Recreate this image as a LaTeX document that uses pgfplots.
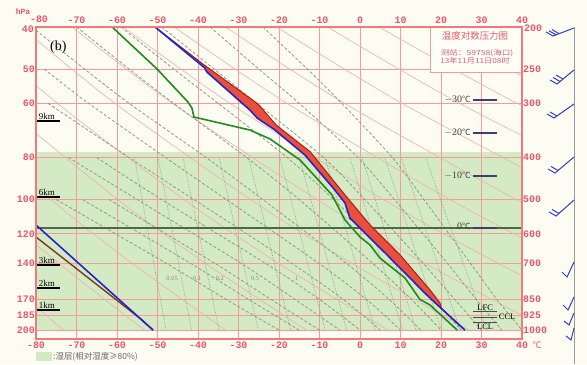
\documentclass[border=0pt]{standalone}
\usepackage{pgfplots}
\pgfplotsset{compat=1.18}
\usepackage{fontspec}
\setmainfont{Liberation Serif}
\newfontfamily\lmono{Liberation Mono}
\newfontfamily\cjk{Noto Sans CJK SC}
\definecolor{bg}{HTML}{FCFCF3}
\definecolor{moist}{HTML}{D4EAC4}
\definecolor{gridred}{HTML}{F29C9C}
\definecolor{axisred}{HTML}{F07A7A}
\definecolor{labred}{HTML}{E8586A}
\definecolor{fillred}{HTML}{E8503C}
\definecolor{linered}{HTML}{B01818}
\definecolor{pblue}{HTML}{2424C8}
\definecolor{tdgreen}{HTML}{1E8C1E}
\definecolor{dryad}{HTML}{EEB0A8}
\definecolor{moistad}{HTML}{8C9C86}
\definecolor{mixr}{HTML}{8A9A8A}
\definecolor{zeroline}{HTML}{4A6A4A}
\definecolor{brownl}{HTML}{7A3A1A}
\definecolor{navy}{HTML}{3C4070}
\definecolor{barbblue}{HTML}{3040C0}
\definecolor{boxbg}{HTML}{FFFFF8}
\tikzset{lab/.style={font=\lmono\bfseries\fontsize{10}{10}\selectfont, text=labred, inner sep=0pt}}
\begin{document}
\begin{tikzpicture}[x=1bp,y=1bp]
\path[use as bounding box, fill=bg] (0,0) rectangle (587,364);
\begin{axis}[at={(36bp,25bp)}, anchor=south west, width=486bp, height=312bp, scale only axis,
  xmin=-80, xmax=40, ymode=log, ymin=200, ymax=1048.6, y dir=reverse,
  axis line style={draw=none}, xtick=\empty, ytick=\empty, clip mode=individual]
% moist layer
\addplot[draw=none, fill=moist] coordinates {(-80,388) (40,388) (40,1000) (-80,1000)} -- cycle;
% isotherms
\pgfplotsinvokeforeach{-70,-60,-50,-40,-30,-20,-10,0,10,20,30}{
  \addplot[gridred, line width=0.8bp] coordinates {(#1,200) (#1,1048.6)};
}
% isobars
\pgfplotsinvokeforeach{250,300,400,500,600,700,850,925,1000}{
  \addplot[gridred, line width=0.8bp] coordinates {(-80,#1) (40,#1)};
}
% dry adiabats
\pgfplotsset{dry/.style={dryad, line width=0.6bp, smooth}}
\addplot[dry] coordinates {(-146.9,200) (-131.4,300) (-109.0,500) (-92.5,700) (-73.2,1000)};
\addplot[dry] coordinates {(-134.2,200) (-117.2,300) (-92.7,500) (-74.5,700) (-53.2,1000)};
\addplot[dry] coordinates {(-121.6,200) (-103.0,300) (-76.3,500) (-56.4,700) (-33.2,1000)};
\addplot[dry] coordinates {(-109.0,200) (-88.8,300) (-59.8,500) (-38.3,700) (-13.2,1000)};
\addplot[dry] coordinates {(-96.4,200) (-74.7,300) (-43.4,500) (-20.3,700) (6.9,1000)};
\addplot[dry] coordinates {(-83.7,200) (-60.5,300) (-27.0,500) (-2.2,700) (26.9,1000)};
\addplot[dry] coordinates {(-71.1,200) (-46.3,300) (-10.6,500) (15.8,700) (46.9,1000)};
\addplot[dry] coordinates {(-58.5,200) (-32.1,300) (5.8,500) (33.9,700) (66.9,1000)};
\addplot[dry] coordinates {(-45.9,200) (-18.0,300) (22.2,500) (52.0,700)};
\addplot[dry] coordinates {(-33.2,200) (-3.8,300) (38.6,500) (70.0,700)};
\addplot[dry] coordinates {(-20.6,200) (10.4,300) (55.0,500)};
\addplot[dry] coordinates {(-8.0,200) (24.6,300) (71.4,500)};
\addplot[dry] coordinates {(4.7,200) (38.8,300) (87.8,500)};
\addplot[dry] coordinates {(17.3,200) (53.0,300)};
\addplot[dry] coordinates {(29.9,200) (67.1,300)};
% moist adiabats
\pgfplotsset{wet/.style={moistad, line width=0.8bp, dash pattern=on 3bp off 2bp, smooth}}
\addplot[wet] coordinates {(-24,200) (-13,250) (-4.5,300) (8,400) (15.8,500) (27.2,700) (33.8,850) (40,1000)};
\addplot[wet] coordinates {(-37,200) (-25,250) (-15,300) (-0.5,400) (8.5,500) (21.5,700) (28.7,850) (35,1000)};
\addplot[wet] coordinates {(-49,200) (-36,250) (-25.5,300) (-9,400) (1.2,500) (15.5,700) (23.4,850) (30,1000)};
\addplot[wet] coordinates {(-59,200) (-46,250) (-35,300) (-18,400) (-6.5,500) (9.4,700) (18.1,850) (25,1000)};
\addplot[wet] coordinates {(-70,200) (-57,250) (-46,300) (-28,400) (-15,500) (3,700) (12.7,850) (20,1000)};
\addplot[wet] coordinates {(-81,200) (-68,250) (-57,300) (-38,400) (-24,500) (-3.5,700) (7.2,850) (15,1000)};
\addplot[wet] coordinates {(-78,250) (-67,300) (-48,400) (-33,500) (-10.3,700) (1.6,850) (10,1000)};
\addplot[wet] coordinates {(-77,300) (-57,400) (-41,500) (-17,700) (-4.1,850) (5,1000)};
\addplot[wet] coordinates {(-65,400) (-49,500) (-23.5,700) (-10,850) (0,1000)};
\addplot[wet] coordinates {(-72,400) (-55,500) (-29.5,700) (-16,850) (-5,1000)};
\addplot[wet] coordinates {(-62,500) (-36,700) (-22,850) (-10,1000)};
\addplot[wet] coordinates {(-68.5,500) (-42,700) (-27.5,850) (-15,1000)};
\addplot[wet] coordinates {(-75,500) (-48,700) (-33,850) (-20,1000)};
% mixing ratio lines
\pgfplotsset{mix/.style={mixr, line width=0.6bp, densely dotted}}
\addplot[mix] coordinates {(-55.7,400) (-47.9,1000)};
\addplot[mix] coordinates {(-49.9,400) (-41.6,1000)};
\addplot[mix] coordinates {(-43.7,400) (-34.8,1000)};
\addplot[mix] coordinates {(-34.8,400) (-25.1,1000)};
\addplot[mix] coordinates {(-27.5,400) (-17.1,1000)};
\addplot[mix] coordinates {(-19.8,400) (-8.6,1000)};
\addplot[mix] coordinates {(-15.0,400) (-3.3,1000)};
\addplot[mix] coordinates {(-8.65,400) (3.7,1000)};
\addplot[mix] coordinates {(-2.5,400) (10.5,1000)};
\addplot[mix] coordinates {(0.5,400) (13.85,1000)};
\addplot[mix] coordinates {(6.1,400) (20.1,1000)};
\addplot[mix] coordinates {(10.2,400) (24.7,1000)};
\addplot[mix] coordinates {(16.2,400) (31.4,1000)};
% 0 C level
\addplot[zeroline, line width=1.2bp] coordinates {(-80,581.6) (40,581.6)};
% red area between temperature and state curve
\addplot[draw=none, fill=fillred] coordinates {
 (-50.6,200) (-38.8,243.4) (-25.2,301) (-20.7,336.6) (-12.3,388) (-3.7,488) (2.5,572.4)
 (9.9,671.2) (17.3,808.4) (19.75,866.2) (20.1,892) (17.8,852.4) (16.0,821.4) (6.7,671.2)
 (0,581.6) (-2.5,551.5) (-3.7,509.3) (-6.2,475.3) (-13.6,394.7) (-21.0,345.6) (-25.4,324.3)
 (-27.2,310.8) (-37.8,254) (-38.3,248.7) (-50.6,200)} -- cycle;
\addplot[linered, line width=1bp] coordinates {
 (-50.6,200) (-38.8,243.4) (-25.2,301) (-20.7,336.6) (-12.3,388) (-3.7,488) (2.5,572.4)
 (9.9,671.2) (17.3,808.4) (19.75,866.2) (20.1,892) (25.9,1000)};
% dew point
\addplot[tdgreen, line width=1.6bp] coordinates {
 (-61.2,200) (-50.1,250) (-42.5,297.8) (-41.5,307.6) (-41.0,322.6) (-27.2,345.6) (-22.2,362.5)
 (-14.8,405.3) (-6.9,488) (-3.7,557.4) (0,610) (2.5,636.5) (4.9,682) (11.1,758.4)
 (14.8,850) (17.3,875.4) (24.0,1000)};
% state curve
\addplot[pblue, line width=1.6bp] coordinates {
 (-50.6,200) (-38.3,248.7) (-37.8,254) (-27.2,310.8) (-25.4,324.3) (-21.0,345.6)
 (-13.6,394.7) (-6.2,475.3) (-3.7,509.3) (-2.5,551.5) (0,581.6) (6.7,671.2)
 (16.0,821.4) (17.8,852.4) (25.9,1000)};
% lower-left curves
\addplot[brownl, line width=1.4bp] coordinates {(-80,610) (-54.1,943) (-51.1,1000)};
\addplot[pblue, line width=1.6bp] coordinates {(-80,572.4) (-51.1,1000)};
% height marks
\pgfplotsinvokeforeach{329.4,493.4,707.8,800,899}{
  \addplot[black, line width=1.2bp] coordinates {(-80,#1) (-74.1,#1)};
}
\node[anchor=south west, inner sep=1bp, font=\fontsize{9}{9}\selectfont] at (axis cs:-79.6,329.4) {9km};
\node[anchor=south west, inner sep=1bp, font=\fontsize{9}{9}\selectfont] at (axis cs:-79.6,493.4) {6km};
\node[anchor=south west, inner sep=1bp, font=\fontsize{9}{9}\selectfont] at (axis cs:-79.6,707.8) {3km};
\node[anchor=south west, inner sep=1bp, font=\fontsize{9}{9}\selectfont] at (axis cs:-79.6,800) {2km};
\node[anchor=south west, inner sep=1bp, font=\fontsize{9}{9}\selectfont] at (axis cs:-79.6,899) {1km};
% isotherm level marks
\pgfplotsinvokeforeach{294.7,351,441.3,581.6}{
  \addplot[navy, line width=1.8bp] coordinates {(27.9,#1) (33.8,#1)};
}
\node[anchor=east, inner sep=1bp, text=black!75, font=\fontsize{10}{10}\selectfont] at (axis cs:27.6,294.7) {$-$30{\cjk\fontsize{8.5}{8.5}\selectfont ℃}};
\node[anchor=east, inner sep=1bp, text=black!75, font=\fontsize{10}{10}\selectfont] at (axis cs:27.6,351) {$-$20{\cjk\fontsize{8.5}{8.5}\selectfont ℃}};
\node[anchor=east, inner sep=1bp, text=black!75, font=\fontsize{10}{10}\selectfont] at (axis cs:27.6,441.3) {$-$10{\cjk\fontsize{8.5}{8.5}\selectfont ℃}};
\node[anchor=east, inner sep=1bp, text=black!75, font=\fontsize{10}{10}\selectfont] at (axis cs:27.6,576) {0{\cjk\fontsize{8.5}{8.5}\selectfont ℃}};
% LFC CCL LCL
\pgfplotsinvokeforeach{907,934,960}{
  \addplot[black!70, line width=1.4bp] coordinates {(27.9,#1) (33.8,#1)};
}
\node[anchor=south, inner sep=1bp, font=\fontsize{8.5}{8.5}\selectfont] at (axis cs:30.9,907) {LFC};
\node[anchor=west, inner sep=1bp, font=\fontsize{8.5}{8.5}\selectfont] at (axis cs:34.0,934) {CCL};
\node[anchor=north, inner sep=1bp, font=\fontsize{8.5}{8.5}\selectfont] at (axis cs:30.9,962) {LCL};
% mixing ratio labels
\node[text=black!45, font=\fontsize{6.5}{6.5}\selectfont] at (axis cs:-46.4,758) {0.05};
\node[text=black!45, font=\fontsize{6.5}{6.5}\selectfont] at (axis cs:-40.2,758) {0.1};
\node[text=black!45, font=\fontsize{6.5}{6.5}\selectfont] at (axis cs:-34.6,758) {0.2};
\node[text=black!45, font=\fontsize{6.5}{6.5}\selectfont] at (axis cs:-25.9,758) {0.5};
\node[text=black!45, font=\fontsize{6.5}{6.5}\selectfont] at (axis cs:-15.6,758) {1};
% title box
\draw[fill=boxbg, draw=gridred, line width=0.8bp] (axis cs:17.3,200) rectangle (axis cs:40,255);
\node[text=labred, inner sep=0pt, font=\cjk\fontsize{9.5}{9.5}\selectfont] at (axis cs:28.4,209.8) {温度对数压力图};
\node[text=labred!80!gray, inner sep=0pt, font=\cjk\fontsize{7.5}{7.5}\selectfont] at (axis cs:28.9,229.6) {\scalebox{1.15}[0.95]{测站：59758(海口)}};
\node[text=labred!80!gray, inner sep=0pt, font=\cjk\fontsize{7.5}{7.5}\selectfont] at (axis cs:28.4,239.6) {\scalebox{1.1}[0.95]{13年11月11日08时}};
% frame
\draw[axisred, line width=2.2bp] (rel axis cs:0,0) rectangle (rel axis cs:1,1);
% (b)
\node[font=\fontsize{14}{14}\selectfont, inner sep=0pt] at (axis cs:-74.5,222) {(b)};
% tick labels
\pgfplotsinvokeforeach{-70,-60,-50,-40,-30,-20,-10,0,10,20,30,40}{
  \node[lab, yshift=7bp] at (axis cs:#1,200) {#1};
}
\node[lab, yshift=8bp, xshift=3bp] at (axis cs:-80,200) {-80};
\pgfplotsinvokeforeach{-80,-70,-60,-50,-40,-30,-20,-10,0,10,20,30,40}{
  \node[lab, yshift=-6bp] at (axis cs:#1,1048.6) {#1};
}
\node[lab, yshift=-6bp, xshift=15bp, font=\cjk\fontsize{9}{9}\selectfont] at (axis cs:40,1048.6) {℃};
\node[lab, anchor=east, xshift=-2bp, yshift=-2bp] at (axis cs:-80,200) {40};
\node[lab, anchor=east, xshift=-1bp] at (axis cs:-80,250) {50};
\node[lab, anchor=east, xshift=-1bp] at (axis cs:-80,300) {60};
\node[lab, anchor=east, xshift=-1bp] at (axis cs:-80,400) {80};
\node[lab, anchor=east, xshift=-1bp] at (axis cs:-80,500) {100};
\node[lab, anchor=east, xshift=-1bp] at (axis cs:-80,600) {120};
\node[lab, anchor=east, xshift=-1bp] at (axis cs:-80,700) {140};
\node[lab, anchor=east, xshift=-1bp] at (axis cs:-80,850) {170};
\node[lab, anchor=east, xshift=-1bp] at (axis cs:-80,925) {185};
\node[lab, anchor=east, xshift=-1bp] at (axis cs:-80,1000) {200};
\node[lab, anchor=west, xshift=2bp, yshift=-1bp] at (axis cs:40,200) {200};
\pgfplotsinvokeforeach{250,300,400,500,600,700,850,925,1000}{
  \node[lab, anchor=west, xshift=1bp] at (axis cs:40,#1) {#1};
}
\node[lab, font=\lmono\bfseries\fontsize{8}{8}\selectfont, xshift=-13bp, yshift=15bp] at (axis cs:-80,200) {hPa};
\end{axis}
% wind barbs (pixel-based overlay axis)
\begin{axis}[at={(0bp,0bp)}, anchor=south west, width=587bp, height=364bp, scale only axis,
  xmin=0, xmax=587, ymin=0, ymax=364, y dir=reverse, hide axis, clip=false]
\addplot[black!40, line width=1bp] coordinates {(574.5,27) (574.5,364)};
\pgfplotsset{barb/.style={barbblue, line width=1bp}}
\addplot[barb] coordinates {(574,28) (553,36) (546,32)};
\addplot[barb] coordinates {(556,34.8) (549,30.8)};
\addplot[barb] coordinates {(559,33.6) (552,29.6)};
\addplot[barb] coordinates {(574,70) (557,84) (550,80)};
\addplot[barb] coordinates {(560,81.5) (553,77.5)};
\addplot[barb] coordinates {(563,79) (556,75)};
\addplot[barb] coordinates {(574,104) (554,118) (547,114)};
\addplot[barb] coordinates {(557,116) (550,112)};
\addplot[barb] coordinates {(574,157) (555,173) (548,169)};
\addplot[barb] coordinates {(558,170.5) (551,166.5)};
\addplot[barb] coordinates {(574,200) (556,216) (549,212)};
\addplot[barb] coordinates {(559,213.5) (552,209.5)};
\addplot[barb] coordinates {(574,262) (567,277) (562,272)};
\addplot[barb] coordinates {(574,297) (568,310) (563,305)};
\addplot[barb] coordinates {(574,313) (569,325) (564,321)};
\addplot[barb] coordinates {(574,328) (571,340) (566,336)};
\end{axis}
% legend
\fill[moist] (36,3) rectangle (52,12);
\node[anchor=west, inner sep=0pt, text=black!60, font=\cjk\fontsize{8.5}{8.5}\selectfont] at (53,7.5) {:湿层(相对湿度≥80\%)};
\end{tikzpicture}
\end{document}
